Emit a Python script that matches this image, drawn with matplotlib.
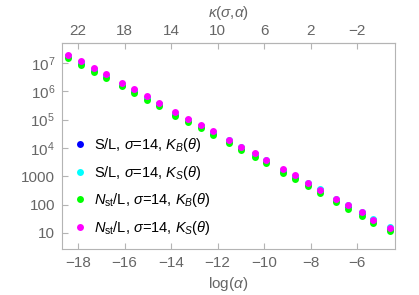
import math
import matplotlib
matplotlib.use("Agg")
import matplotlib.pyplot as plt
from matplotlib.ticker import FixedLocator, FuncFormatter, NullLocator

plt.rcParams['font.family'] = ['Liberation Sans', 'DejaVu Sans']
plt.rcParams['mathtext.fontset'] = 'custom'
plt.rcParams['mathtext.rm'] = 'Liberation Sans'
plt.rcParams['mathtext.it'] = 'Liberation Sans:italic'
plt.rcParams['mathtext.bf'] = 'Liberation Sans:bold'

# log(alpha) positions
log_alpha = [-18.42, -17.89, -17.32, -16.81, -16.12, -15.59, -15.02, -14.51,
             -13.82, -13.29, -12.72, -12.21, -11.51, -10.98, -10.41, -9.90,
             -9.21, -8.68, -8.11, -7.60, -6.91, -6.38, -5.81, -5.30, -4.61]

sl_kb = [1.75e7, 1.03e7, 5.9e6, 3.5e6, 1.75e6, 1.07e6, 5.8e5, 3.45e5, 1.6e5,
         9.6e4, 5.8e4, 3.45e4, 1.75e4, 1.0e4, 5.9e3, 3.45e3, 1.6e3, 980, 550,
         315, 148, 87, 50, 27.5, 14.2]
sl_ks = [1.8e7, 1.06e7, 6.1e6, 3.6e6, 1.8e6, 1.1e6, 6.0e5, 3.6e5, 1.68e5,
         1.0e5, 6.1e4, 3.65e4, 1.85e4, 1.07e4, 6.3e3, 3.7e3, 1.72e3, 1.06e3,
         600, 345, 162, 96, 55, 30.5, 15.8]
nst_kb = [1.5e7, 8.8e6, 5.0e6, 3.0e6, 1.5e6, 9.1e5, 4.9e5, 2.95e5, 1.37e5,
          8.2e4, 4.9e4, 2.9e4, 1.48e4, 8.5e3, 5.0e3, 2.9e3, 1.35e3, 820, 465,
          265, 123, 72, 41, 23, 11.8]
nst_ks = [2.0e7, 1.18e7, 6.8e6, 4.0e6, 2.0e6, 1.22e6, 6.6e5, 3.9e5, 1.82e5,
          1.08e5, 6.5e4, 3.85e4, 1.95e4, 1.12e4, 6.5e3, 3.8e3, 1.75e3, 1.07e3,
          600, 340, 158, 93, 53, 29.5, 15.2]

series = [
    (sl_kb, '#0000ff', r'S/L, $\sigma$=14, $K_B(\theta)$'),
    (sl_ks, '#00ffff', r'S/L, $\sigma$=14, $K_S(\theta)$'),
    (nst_kb, '#00ff00', r'$N_{\rm st}$/L, $\sigma$=14, $K_B(\theta)$'),
    (nst_ks, '#ff00ff', r'$N_{\rm st}$/L, $\sigma$=14, $K_S(\theta)$'),
]

x_ticks = [-18, -16, -14, -12, -10, -8, -6]
kappa_ticks = [22, 18, 14, 10, 6, 2, -2]
y_ticks = [10, 100, 1000, 1e4, 1e5, 1e6, 1e7]

gray = '#666666'
frame = '#b4b4b4'

fig = plt.figure(figsize=(4.19, 2.95), dpi=100)
ax = fig.add_axes([0.148, 0.156, 0.795, 0.698])

for vals, col, lab in series:
    ax.plot(log_alpha, vals, 'o', color=col, markersize=5, label=lab,
            markeredgewidth=0)

ax.set_yscale('log')
ax.set_xlim(-18.69, -4.37)
ax.set_ylim(2.7, 5.1e7)

ax.xaxis.set_major_locator(FixedLocator(x_ticks))
ax.xaxis.set_major_formatter(FuncFormatter(lambda v, p: f"{int(v)}".replace('-', '\u2212')))
ax.yaxis.set_major_locator(FixedLocator(y_ticks))
ax.yaxis.set_minor_locator(NullLocator())


def yfmt(v, p):
    if v < 1e4:
        return f"{int(round(v))}"
    return r'$10^{%d}$' % int(round(math.log10(v)))


ax.yaxis.set_major_formatter(FuncFormatter(yfmt))

top = ax.secondary_xaxis('top', functions=(lambda x: -14 - 2 * x, lambda k: (-14 - k) / 2))
top.xaxis.set_major_locator(FixedLocator(kappa_ticks))
top.xaxis.set_major_formatter(FuncFormatter(lambda v, p: f"{int(round(v))}".replace('-', '\u2212')))
top.tick_params(direction='in', length=4, color=frame, labelcolor=gray, labelsize=11, pad=4)
top.spines['top'].set_color(frame)
top.set_xlabel(r'$\kappa(\sigma{,}\alpha)$', color=gray, fontsize=11, labelpad=5)

for s in ax.spines.values():
    s.set_color(frame)
ax.tick_params(which='both', direction='in', length=4, color=frame,
               labelcolor=gray, labelsize=11, pad=5)
ax.set_xlabel(r'log($\alpha$)', color=gray, fontsize=11, labelpad=4)

ax.legend(loc='lower left', bbox_to_anchor=(0.0, 0.01), frameon=False,
          fontsize=10.5, handletextpad=0.5, labelspacing=0.65, borderaxespad=0.3,
          handlelength=1.0, markerscale=1.0)

fig.savefig('out.png', dpi=100)
